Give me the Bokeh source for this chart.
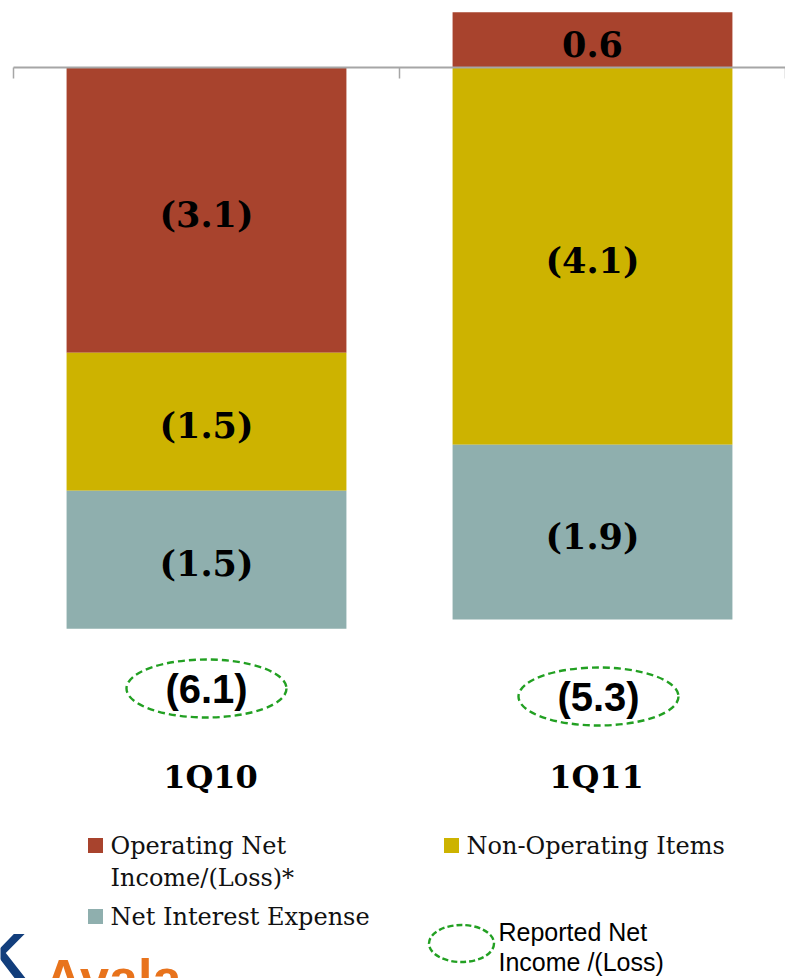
from bokeh.plotting import figure
from bokeh.models import Range1d, ColumnDataSource
from bokeh.core.properties import value
from bokeh.embed import file_html
from bokeh.resources import INLINE

# ---- data ----
categories = ["1Q10", "1Q11"]
operating = [-3.1, 0.6]
non_operating = [-1.5, -4.1]
net_interest = [-1.5, -1.9]
reported = [-6.1, -5.3]
series_names = ["Operating Net\nIncome/(Loss)*", "Non-Operating Items", "Net Interest Expense"]
series_values = [operating, non_operating, net_interest]
series_colors = ["#A8432D", "#CDB300", "#8FAFAE"]

# ---- layout (pixel based helpers) ----
W, H = 785, 978
PXX = 386.0          # pixels per category
PXY = 92.0           # pixels per unit value
X0 = -0.5 - 13 / PXX
YT = 67 / PXY


def dx(px):
    return X0 + px / PXX


def dy(py):
    return YT - py / PXY


def fmt(v):
    return "(%.1f)" % abs(v) if v < 0 else "%.1f" % v


p = figure(width=W, height=H, x_range=Range1d(X0, X0 + W / PXX),
           y_range=Range1d(YT - H / PXY, YT), output_backend="svg",
           toolbar_location=None, x_axis_location=None, y_axis_location=None,
           min_border=0)
p.grid.visible = False
p.outline_line_color = None
p.background_fill_color = "white"
p.border_fill_color = "white"

xs = list(range(len(categories)))
pos_base = [0.0] * len(categories)
neg_base = [0.0] * len(categories)
for vals, color in zip(series_values, series_colors):
    bottoms, tops, labels = [], [], []
    for i, v in enumerate(vals):
        if v >= 0:
            b, t = pos_base[i], pos_base[i] + v
            pos_base[i] = t
        else:
            b, t = neg_base[i] + v, neg_base[i]
            neg_base[i] = b
        bottoms.append(b)
        tops.append(t)
        labels.append(fmt(v))
    src = ColumnDataSource(dict(x=xs, bottom=bottoms, top=tops,
                                mid=[(b + t) / 2 for b, t in zip(bottoms, tops)],
                                label=labels))
    p.vbar(x="x", width=0.725, bottom="bottom", top="top", source=src,
           fill_color=color, line_color=None)
    p.text(x="x", y="mid", text="label", source=src, text_font=value("DejaVu Serif"),
           text_font_style="bold", text_font_size="35px", text_align="center",
           text_baseline="middle", y_offset=4, text_color="black")

# axis line and boundary ticks
bounds = [i - 0.5 for i in range(len(categories) + 1)]
p.segment(x0=[bounds[0]], y0=[0], x1=[bounds[-1]], y1=[0], line_color="#a6a6a6", line_width=2)
p.segment(x0=bounds, y0=[0] * len(bounds), x1=bounds, y1=[dy(78)] * len(bounds),
          line_color="#a6a6a6", line_width=1.5)

# reported net income labels with dashed ellipses
rep_y_px = [688, 696]
rep_dx_px = [0, 6]
rep_src = ColumnDataSource(dict(
    x=[i + o / PXX for i, o in zip(xs, rep_dx_px)],
    y=[dy(v) for v in rep_y_px],
    label=[fmt(v) for v in reported]))
p.ellipse(x="x", y="y", width=160, height=58, width_units="screen", height_units="screen",
          source=rep_src, fill_color=None, line_color="#22A022", line_width=2.4,
          line_dash="7 4")
p.text(x="x", y="y", text="label", source=rep_src, text_font=value("Liberation Sans"),
       text_font_style="bold", text_font_size="40px", text_align="center",
       text_baseline="middle", text_color="black")

# category labels
cat_src = ColumnDataSource(dict(x=[i + 4 / PXX for i in xs], y=[dy(776)] * len(xs), label=categories))
p.text(x="x", y="y", text="label", source=cat_src, text_font=value("DejaVu Serif"),
       text_font_style="bold", text_font_size="32px", text_align="center",
       text_baseline="middle", text_color="black")

# legend
leg_font = value("DejaVu Serif")
sq_x = [dx(95), dx(451), dx(95)]
sq_y = [dy(845), dy(845), dy(916)]
p.scatter(x=sq_x, y=sq_y, marker="square", size=15, fill_color=series_colors,
          line_color=None)
leg_lines = []
for name, sx, sy in zip(series_names, [110, 466, 110], [845, 845, 916]):
    for k, line in enumerate(name.split("\n")):
        leg_lines.append((dx(sx), dy(sy + 32 * k), line))
p.text(x=[a for a, b, c in leg_lines], y=[b for a, b, c in leg_lines],
       text=[c for a, b, c in leg_lines], text_font=leg_font, text_font_size="24px",
       text_align="left", text_baseline="middle", text_color="#111111")

p.ellipse(x=[dx(461)], y=[dy(943)], width=65, height=37, width_units="screen",
          height_units="screen", fill_color=None, line_color="#22A022", line_width=2.4,
          line_dash="6 3")
p.text(x=[dx(498), dx(498)], y=[dy(931), dy(961)], text=["Reported Net", "Income /(Loss)"],
       text_font=value("Liberation Sans"), text_font_size="25px", text_align="left",
       text_baseline="middle", text_color="black")

# partial logo at bottom-left
p.text(x=[dx(-20)], y=[dy(920)], text=["K"], text_font=value("Liberation Sans"),
       text_font_style="bold", text_font_size="64px", text_align="left",
       text_baseline="top", text_color="#123E7C")
p.text(x=[dx(44)], y=[dy(948)], text=["Avala"], text_font=value("Liberation Sans"),
       text_font_style="bold", text_font_size="52px", text_align="left",
       text_baseline="top", text_color="#E8731C")

open("out.html", "w").write(file_html(p, INLINE))
